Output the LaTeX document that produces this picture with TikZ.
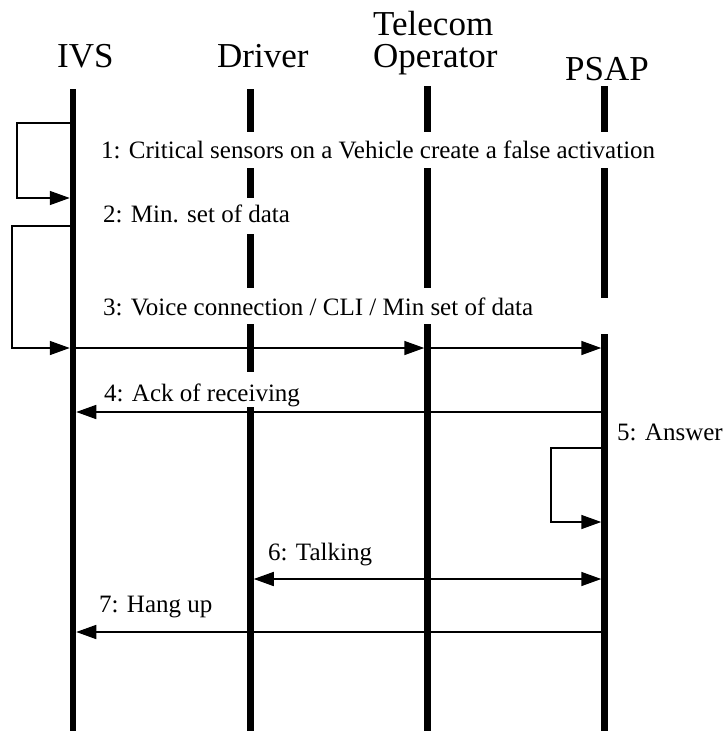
\documentclass[tikz,border=0pt]{standalone}
\usepackage{fontspec}
\setmainfont{Liberation Serif}
\usetikzlibrary{arrows.meta}
\begin{document}
\begin{tikzpicture}[x=1pt,y=-1pt,
  life/.style={line width=6.5pt},
  tip/.tip={Triangle[length=20pt,width=14pt]},
  msg/.style={line width=1.6pt,-tip,shorten >=3.25pt},
  biarrow/.style={line width=1.6pt,tip-tip,shorten >=3.25pt,shorten <=3.25pt},
  head/.style={anchor=base west,inner sep=0pt,font=\fontsize{35}{40}\selectfont},
  lbl/.style={anchor=base west,inner sep=0pt,font=\fontsize{25}{30}\selectfont}]
\useasboundingbox (0,0) rectangle (724,731);

% headers
\node[head] (hIVS) at (57,67) {IVS};
\node[head] (hDrv) at (217,67) {Driver};
\node[head] (hTel1) at (373,35) {Telecom};
\node[head] (hTel2) at (373,67) {Operator};
\node[head] (hPSAP) at (565,80) {PSAP};

% lifelines
\draw[life] (73,89) -- (73,731);
\foreach \a/\b in {89/132,168/198,234/288,324/372,407/731}
  \draw[life] (250.5,\a) -- (250.5,\b);
\foreach \a/\b in {86/132,168/288,324/731}
  \draw[life] (427.5,\a) -- (427.5,\b);
\foreach \a/\b in {86/132,168/298,334/731}
  \draw[life] (604.5,\a) -- (604.5,\b);

% anchor points on lifelines
\coordinate (ivs1) at (73,123);
\coordinate (ivs1b) at (73,198);
\coordinate (ivs2) at (73,226);
\coordinate (ivs3) at (73,348);
\coordinate (tel3) at (427.5,348);
\coordinate (psap3) at (604.5,348);
\coordinate (psap4) at (604.5,412);
\coordinate (ivs4) at (73,412);
\coordinate (psap5) at (604.5,448);
\coordinate (psap5b) at (604.5,522);
\coordinate (drv6) at (250.5,579);
\coordinate (psap6) at (604.5,579);
\coordinate (psap7) at (604.5,632);
\coordinate (ivs7) at (73,632);

% messages
\draw[msg] (ivs1) -- (17,123) -- (17,198) -- (ivs1b);
\draw[msg] (ivs2) -- (12,226) -- (12,348) -- (ivs3);
\draw[msg] (ivs3) -- (tel3);
\draw[msg] (tel3) -- (psap3);
\draw[msg] (psap4) -- (ivs4);
\draw[msg] (psap5) -- (551,448) -- (551,522) -- (psap5b);
\draw[biarrow] (drv6) -- (psap6);
\draw[msg] (psap7) -- (ivs7);

% labels
\node[lbl] (m1) at (101,158) {1: Critical sensors on a Vehicle create a false activation};
\node[lbl] (m2) at (103,222.5) {2: Min. set of data};
\node[lbl] (m3) at (103,315) {3: Voice connection / CLI / Min set of data};
\node[lbl] (m4) at (104,401) {4: Ack of receiving};
\node[lbl] (m5) at (617,440.5) {5: Answer};
\node[lbl] (m6) at (268,560) {6: Talking};
\node[lbl] (m7) at (99,612) {7: Hang up};
\end{tikzpicture}
\end{document}
